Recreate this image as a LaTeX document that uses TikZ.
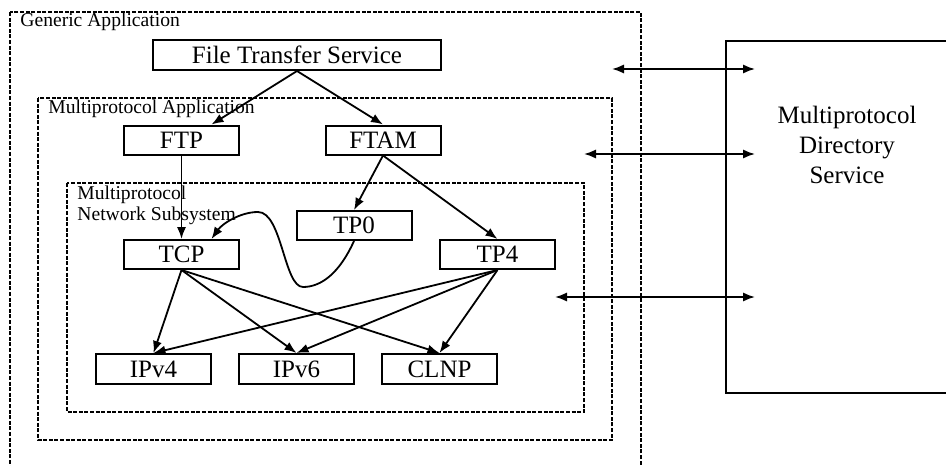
\documentclass[tikz,border=0pt]{standalone}
\usepackage{fontspec}
\setmainfont{Liberation Serif}
\usetikzlibrary{arrows.meta}

\begin{document}
\begin{tikzpicture}[x=0.5pt,y=-0.5pt,
    box/.style={draw,line width=1pt,minimum width=57.5pt,minimum height=14.5pt,inner sep=0pt,font=\fontsize{12.5}{15}\selectfont},
    group/.style={draw,line width=0.6pt,dash pattern=on 2pt off 0.8pt},
    grouplabel/.style={anchor=base west,inner sep=0pt,font=\fontsize{9.8}{11}\selectfont},
    arr/.style={-{Latex[length=6pt,width=4.6pt]},line width=0.9pt},
    link/.style={{Latex[length=6pt,width=4.6pt]}-{Latex[length=6pt,width=4.6pt]},line width=0.9pt}]
  \clip (0,0) rectangle (946,465);
  % nested containers
  \draw[group] (10,12) rectangle (641,480);
  \draw[group] (38,98) rectangle (612,440);
  \draw[group] (67,183) rectangle (584,412);
  \node[grouplabel] (genlbl) at (20,27) {Generic Application};
  \node[grouplabel] (applbl) at (48,113) {Multiprotocol Application};
  \node[grouplabel,align=left] (netlbl) at (77,199) {Multiprotocol};
  \node[grouplabel] (netlbl2) at (77,220) {Network Subsystem};
  % directory service
  \draw[line width=0.8pt] (726,41) rectangle (960,393);
  \node[align=center,inner sep=0pt,font=\fontsize{12.5}{15}\selectfont] (dir) at (847,144.5) {Multiprotocol\\Directory\\Service};
  % protocol boxes
  \node[box,minimum width=144pt,minimum height=15pt] (fts) at (297,55) {File Transfer Service};
  \node[box] (ftp) at (181.5,140) {FTP};
  \node[box] (ftam) at (383,140) {FTAM};
  \node[box] (tp0) at (354,225.5) {TP0};
  \node[box] (tcp) at (181.5,254.5) {TCP};
  \node[box] (tp4) at (497.5,254.5) {TP4};
  \node[box,minimum height=15pt] (ipv4) at (153.5,369) {IPv4};
  \node[box,minimum height=15pt] (ipv6) at (296.5,369) {IPv6};
  \node[box,minimum height=15pt] (clnp) at (439.5,369) {CLNP};
  % arrows
  \draw[arr] (fts.south) -- ([xshift=15pt]ftp.north);
  \draw[arr] (fts.south) -- (ftam.north);
  \draw[arr] (ftp.south) -- (tcp.north);
  \draw[arr] (ftam.south) -- (tp0.north);
  \draw[arr] (ftam.south) -- (tp4.north);
  \draw[arr] (tp0.south) .. controls (340,272) and (322,287) .. (303,287)
    .. controls (284,287) and (282,212) .. (258,212)
    .. controls (240,212) and (222,224) .. ([xshift=15pt]tcp.north);
  \foreach \s in {tcp,tp4}
    \foreach \t in {ipv4,ipv6,clnp}
      \draw[arr] (\s.south) -- (\t.north);
  % links to the directory
  \coordinate (a1) at (612,69);  \coordinate (b1) at (755,69);
  \coordinate (a2) at (584,154); \coordinate (b2) at (755,154);
  \coordinate (a3) at (555,297); \coordinate (b3) at (755,297);
  \foreach \i in {1,2,3}
    \draw[link] (a\i) -- (b\i);
\end{tikzpicture}
\end{document}
